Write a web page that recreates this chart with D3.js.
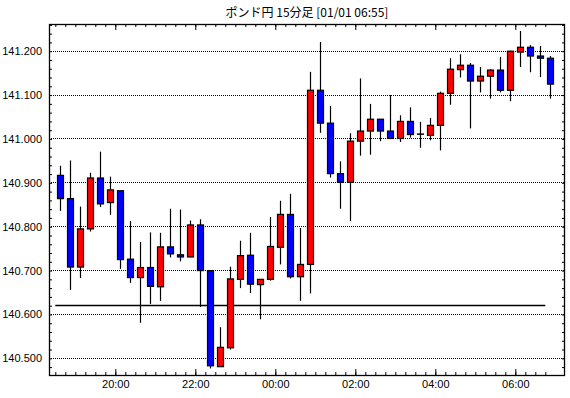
<!DOCTYPE html>
<html>
<head>
<meta charset="utf-8">
<script src="https://cdn.jsdelivr.net/npm/d3@7"></script>
<style>
html,body{margin:0;padding:0;background:#fff;}
svg{display:block;}
</style>
</head>
<body>
<svg id="chart" width="570" height="398"></svg>
<script>
const title = "ポンド円 15分足 [01/01 06:55]";
const startTime = new Date(2024, 11, 31, 18, 30);
const opens  = [140.917,140.864,140.708,140.795,140.911,140.855,140.882,140.726,140.684,140.707,
                140.663,140.754,140.736,140.731,140.804,140.700,140.481,140.524,140.680,140.735,
                140.668,140.680,140.753,140.828,140.686,140.714,141.111,141.036,140.921,140.901,
                140.995,141.018,141.045,141.018,141.001,141.040,141.011,141.008,141.031,141.104,
                141.158,141.168,141.132,141.143,141.157,141.111,141.198,141.209,141.189,141.184];
const highs  = [140.939,140.951,140.846,140.923,140.971,140.914,140.882,140.813,140.765,140.787,
                140.786,140.841,140.839,140.814,140.817,140.700,140.571,140.709,140.768,140.786,
                140.680,140.822,140.859,140.875,140.797,141.153,141.221,141.075,140.949,141.013,
                141.138,141.080,141.045,141.100,141.054,141.072,141.039,141.048,141.108,141.184,
                141.193,141.173,141.164,141.159,141.187,141.201,141.246,141.214,141.212,141.189];
const lows   = [140.836,140.656,140.683,140.789,140.845,140.827,140.704,140.672,140.581,140.624,
                140.631,140.730,140.721,140.731,140.617,140.477,140.481,140.520,140.660,140.649,
                140.589,140.677,140.714,140.682,140.631,140.648,141.014,140.912,140.841,140.813,
                140.962,140.964,140.995,141.001,140.993,141.003,140.980,140.997,140.974,141.078,
                141.140,141.024,141.106,141.092,141.106,141.086,141.164,141.152,141.141,141.092];
const closes = [140.864,140.708,140.795,140.911,140.852,140.884,140.725,140.684,140.707,140.664,
                140.754,140.738,140.731,140.804,140.700,140.483,140.525,140.681,140.734,140.669,
                140.680,140.755,140.828,140.686,140.714,141.111,141.036,140.921,140.901,140.995,
                141.018,141.045,141.018,141.001,141.040,141.010,141.011,141.031,141.104,141.159,
                141.168,141.132,141.143,141.157,141.111,141.200,141.209,141.189,141.184,141.125];
const baseline = 140.621;
const yLabelValues = [140.5,140.6,140.7,140.8,140.9,141.0,141.1,141.2];
const xLabelHours = ["20:00","22:00","00:00","02:00","04:00","06:00"];

const M15 = 15*60*1000;
const times = opens.map((d,i)=>new Date(startTime.getTime()+i*M15));
const lastTime = times[times.length-1];

const svg = d3.select("#chart");
const L=49, R=565, T=24, B=375;
const crisp = v => Math.floor(v)+0.5;

const x = d3.scaleTime()
  .domain([startTime, lastTime])
  .range([55.3, 545.3]);
const tMin = x.invert(L), tMax = x.invert(R);
x.domain([tMin, tMax]).range([L, R]);

const y = d3.scaleLinear().domain([140.462, 141.262]).range([B, T]);

// title
svg.append("text").attr("x", (L+R)/2).attr("y", 17)
  .attr("text-anchor","middle")
  .style("font-family","'Noto Sans CJK JP','Noto Sans',sans-serif")
  .style("font-size","12px").text(title);

// gridlines
svg.append("g").selectAll("line").data(yLabelValues).join("line")
  .attr("x1", L).attr("x2", R)
  .attr("y1", d=>crisp(y(d))).attr("y2", d=>crisp(y(d)))
  .attr("stroke","#000").attr("stroke-width",1).attr("stroke-dasharray","1,1");

// baseline
svg.append("line")
  .attr("x1", x(startTime)).attr("x2", x(lastTime))
  .attr("y1", crisp(y(baseline))).attr("y2", crisp(y(baseline)))
  .attr("stroke","#000").attr("stroke-width",1.3);

// candles
const g = svg.append("g");
const data = opens.map((o,i)=>({t:times[i], o, h:highs[i], l:lows[i], c:closes[i]}));
const cx = d => Math.round(x(new Date(d.t.getTime()+M15/2))) + 0.5;
g.selectAll("line.wick").data(data).join("line").attr("class","wick")
  .attr("x1", cx).attr("x2", cx)
  .attr("y1", d=>y(d.h)).attr("y2", d=>y(d.l))
  .attr("stroke","#000").attr("stroke-width",1.2);
g.selectAll("rect.body").data(data.filter(d=>d.o!==d.c)).join("rect").attr("class","body")
  .attr("x", d=>cx(d)-3).attr("width", 6)
  .attr("y", d=>y(Math.max(d.o,d.c)))
  .attr("height", d=>Math.max(1, Math.abs(y(d.o)-y(d.c))))
  .attr("fill", d=>d.c>d.o ? "#ff0000" : "#0000ff")
  .attr("stroke","#000").attr("stroke-width",1.2);
g.selectAll("line.doji").data(data.filter(d=>d.o===d.c)).join("line").attr("class","doji")
  .attr("x1", d=>cx(d)-3.5).attr("x2", d=>cx(d)+3.5)
  .attr("y1", d=>y(d.o)).attr("y2", d=>y(d.o))
  .attr("stroke","#000").attr("stroke-width",1.5);

// axes
const minorTicks = d3.timeMinute.every(15).range(startTime, new Date(lastTime.getTime()+1));
const majorTicks = xLabelHours.map((s,i)=>new Date(2024,11,31,20+2*i,0));
const yTicks = d3.range(140.48, 141.27, 0.02).map(v=>+v.toFixed(2));

const axStyle = sel => {
  sel.select(".domain").remove();
  sel.selectAll("line").attr("stroke","#000").attr("stroke-width",1);
  sel.selectAll("text").style("font-family","'Liberation Sans',Arial,sans-serif").style("font-size","11px").attr("fill","#000");
};

svg.append("g").attr("transform",`translate(0,${B})`)
  .call(d3.axisBottom(x).tickValues(minorTicks).tickSize(-3).tickFormat(""))
  .call(axStyle);
svg.append("g").attr("transform",`translate(0,${B})`)
  .call(d3.axisBottom(x).tickValues(majorTicks).tickSize(-6).tickPadding(5)
    .tickFormat((d,i)=>xLabelHours[i]))
  .call(axStyle);
svg.append("g").attr("transform",`translate(0,${T})`)
  .call(d3.axisTop(x).tickValues(minorTicks).tickSize(-3).tickFormat(""))
  .call(axStyle);
svg.append("g").attr("transform",`translate(0,${T})`)
  .call(d3.axisTop(x).tickValues(majorTicks).tickSize(-6).tickFormat(""))
  .call(axStyle);

svg.append("g").attr("transform",`translate(${L},0)`)
  .call(d3.axisLeft(y).tickValues(yTicks).tickSize(-3).tickPadding(7)
    .tickFormat(v => yLabelValues.some(a=>Math.abs(a-v)<1e-6) ? d3.format(".3f")(v) : ""))
  .call(axStyle);
svg.append("g").attr("transform",`translate(${R},0)`)
  .call(d3.axisRight(y).tickValues(yTicks).tickSize(-3).tickFormat(""))
  .call(axStyle);

// frame
svg.append("rect").attr("x", L+0.5).attr("y", T+0.5)
  .attr("width", R-L-1).attr("height", B-T)
  .attr("fill","none").attr("stroke","#000").attr("stroke-width",1.3);
</script>
</body>
</html>
